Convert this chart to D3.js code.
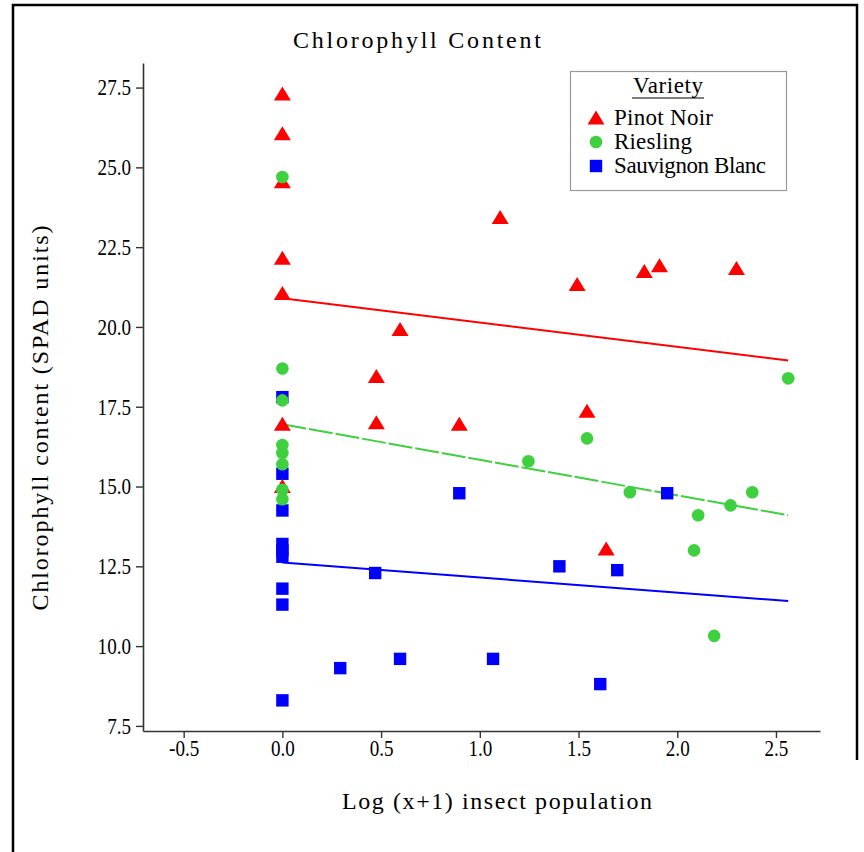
<!DOCTYPE html>
<html>
<head>
<meta charset="utf-8">
<script src="https://cdn.jsdelivr.net/npm/d3@7"></script>
<style>
	body { margin: 0; background: #fff; }
	text { font-family: "Liberation Serif", "Times New Roman", serif; fill: #000; }
</style>
</head>
<body>
<svg id="chart" width="864" height="852"></svg>
<script>
// Series
const varieties = ["Pinot Noir", "Riesling", "Sauvignon Blanc"];
const colors = ["#ff0000", "#3fd03f", "#0000ff"];

const pinotX = [0, 0, 0, 0, 0, 0, 0, 0.476, 0.476, 0.596, 0.896, 1.103, 1.493, 1.543, 1.64, 1.833, 1.91, 2.30];
const pinotY = [27.3, 26.05, 24.55, 22.15, 21.05, 16.95, 15.0, 18.45, 17.0, 19.92, 16.95, 23.43, 21.33, 17.36, 13.04, 21.74, 21.92, 21.83];

const rieslingX = [0, 0, 0, 0, 0, 0, 0, 0, 1.246, 1.543, 1.76, 2.085, 2.106, 2.187, 2.27, 2.38, 2.562];
const rieslingY = [24.7, 18.7, 17.7, 16.3, 16.05, 15.7, 14.9, 14.6, 15.79, 16.51, 14.82, 13.0, 14.1, 10.32, 14.41, 14.82, 18.39];

const sauvX = [0, 0, 0, 0, 0, 0, 0, 0, 0, 0.293, 0.47, 0.596, 0.896, 1.067, 1.403, 1.61, 1.696, 1.949];
const sauvY = [17.8, 15.4, 14.25, 13.2, 13.0, 12.8, 11.8, 11.3, 8.3, 9.31, 12.29, 9.6, 14.79, 9.6, 12.5, 8.81, 12.38, 14.79];

// fitted lines (value at x start and x end)
const fitX = [0, 2.562];
const fitStart = [20.9, 16.95, 12.62];
const fitEnd = [18.95, 14.1, 11.41];

const xTicks = [-0.5, 0, 0.5, 1.0, 1.5, 2.0, 2.5];
const yTicks = [7.5, 10, 12.5, 15, 17.5, 20, 22.5, 25, 27.5];

const series = [
	{ name: varieties[0], color: colors[0], shape: "triangle", xs: pinotX, ys: pinotY },
	{ name: varieties[1], color: colors[1], shape: "circle", xs: rieslingX, ys: rieslingY },
	{ name: varieties[2], color: colors[2], shape: "square", xs: sauvX, ys: sauvY }
];

const svg = d3.select("#chart");

const x = d3.scaleLinear().domain([-0.706, 2.723]).range([143, 820]);
const y = d3.scaleLinear().domain([7.34, 28.27]).range([731, 63]);

// page frame
svg.append("path")
	.attr("d", "M13,852 V5 H857 V760")
	.attr("fill", "none")
	.attr("stroke", "#000")
	.attr("stroke-width", 2.5);

// draw one marker
function marker(g, shape, cx, cy, color) {
	if (shape === "circle") {
		g.append("circle").attr("cx", cx).attr("cy", cy).attr("r", 6.3).attr("fill", color);
	} else if (shape === "square") {
		g.append("rect").attr("x", cx - 6.2).attr("y", cy - 6.2).attr("width", 12.4).attr("height", 12.4).attr("fill", color);
	} else {
		g.append("path")
			.attr("d", `M${cx - 8.5},${cy + 6.5} L${cx + 8.5},${cy + 6.5} L${cx},${cy - 7.5} Z`)
			.attr("fill", color);
	}
}

// axes
const fmt = d => d.toFixed(1);
const squeeze = 0.83; // tick labels are a narrow serif

const xAxis = svg.append("g")
	.attr("transform", "translate(0,731)")
	.call(d3.axisBottom(x).tickValues(xTicks).tickFormat(fmt).tickSize(7).tickSizeOuter(0).tickPadding(4));

const yAxis = svg.append("g")
	.attr("transform", "translate(143,0)")
	.call(d3.axisLeft(y).tickValues(yTicks).tickFormat(fmt).tickSize(7).tickSizeOuter(0).tickPadding(4));

[xAxis, yAxis].forEach(a => {
	a.select(".domain").attr("stroke", "#333").attr("stroke-width", 1.6);
	a.selectAll(".tick line").attr("stroke", "#333").attr("stroke-width", 1.4);
	a.selectAll(".tick text")
		.attr("font-family", "Liberation Serif")
		.attr("font-size", 23)
		.attr("fill", "#000")
		.attr("transform", `scale(${squeeze},1)`);
});
yAxis.selectAll(".tick text").attr("x", -12 / squeeze);
xAxis.selectAll(".tick text").attr("y", 9);

// fit lines
series.forEach((s, i) => {
	svg.append("line")
		.attr("x1", x(fitX[0])).attr("y1", y(fitStart[i]))
		.attr("x2", x(fitX[1])).attr("y2", y(fitEnd[i]))
		.attr("stroke", s.color)
		.attr("stroke-width", 2)
		.attr("stroke-dasharray", i === 1 ? "24,3" : null);
});

// points: blue first, then red, then green on top
[2, 0, 1].forEach(i => {
	const s = series[i];
	const g = svg.append("g");
	s.xs.forEach((v, j) => marker(g, s.shape, x(v), y(s.ys[j]), s.color));
});

// titles
svg.append("text")
	.attr("x", 417).attr("y", 48)
	.attr("text-anchor", "middle")
	.attr("font-size", 24)
	.attr("textLength", 248).attr("lengthAdjust", "spacing")
	.text("Chlorophyll Content");

svg.append("text")
	.attr("x", 497).attr("y", 809)
	.attr("text-anchor", "middle")
	.attr("font-size", 24)
	.attr("textLength", 310).attr("lengthAdjust", "spacing")
	.text("Log (x+1) insect population");

svg.append("text")
	.attr("transform", "translate(48,418) rotate(-90)")
	.attr("text-anchor", "middle")
	.attr("font-size", 24)
	.attr("textLength", 385).attr("lengthAdjust", "spacing")
	.text("Chlorophyll content (SPAD units)");

// legend
const legend = svg.append("g").attr("transform", "translate(570,71)");
legend.append("rect")
	.attr("x", 0.5).attr("y", 0.5).attr("width", 216).attr("height", 119)
	.attr("fill", "#fff").attr("stroke", "#999").attr("stroke-width", 1.2);
legend.append("text")
	.attr("x", 98).attr("y", 22)
	.attr("text-anchor", "middle")
	.attr("font-size", 23)
	.attr("textLength", 70).attr("lengthAdjust", "spacing")
	.text("Variety");
legend.append("line")
	.attr("x1", 62).attr("x2", 134).attr("y1", 27).attr("y2", 27)
	.attr("stroke", "#000").attr("stroke-width", 1.2);

const legendWidths = [99, 78, 152];
series.forEach((s, i) => {
	const row = legend.append("g").attr("transform", `translate(0,${47 + i * 24})`);
	marker(row, s.shape, 26, 0, s.color);
	row.append("text")
		.attr("x", 44).attr("y", 7)
		.attr("font-size", 23)
		.attr("textLength", legendWidths[i]).attr("lengthAdjust", "spacing")
		.text(s.name);
});
</script>
</body>
</html>
